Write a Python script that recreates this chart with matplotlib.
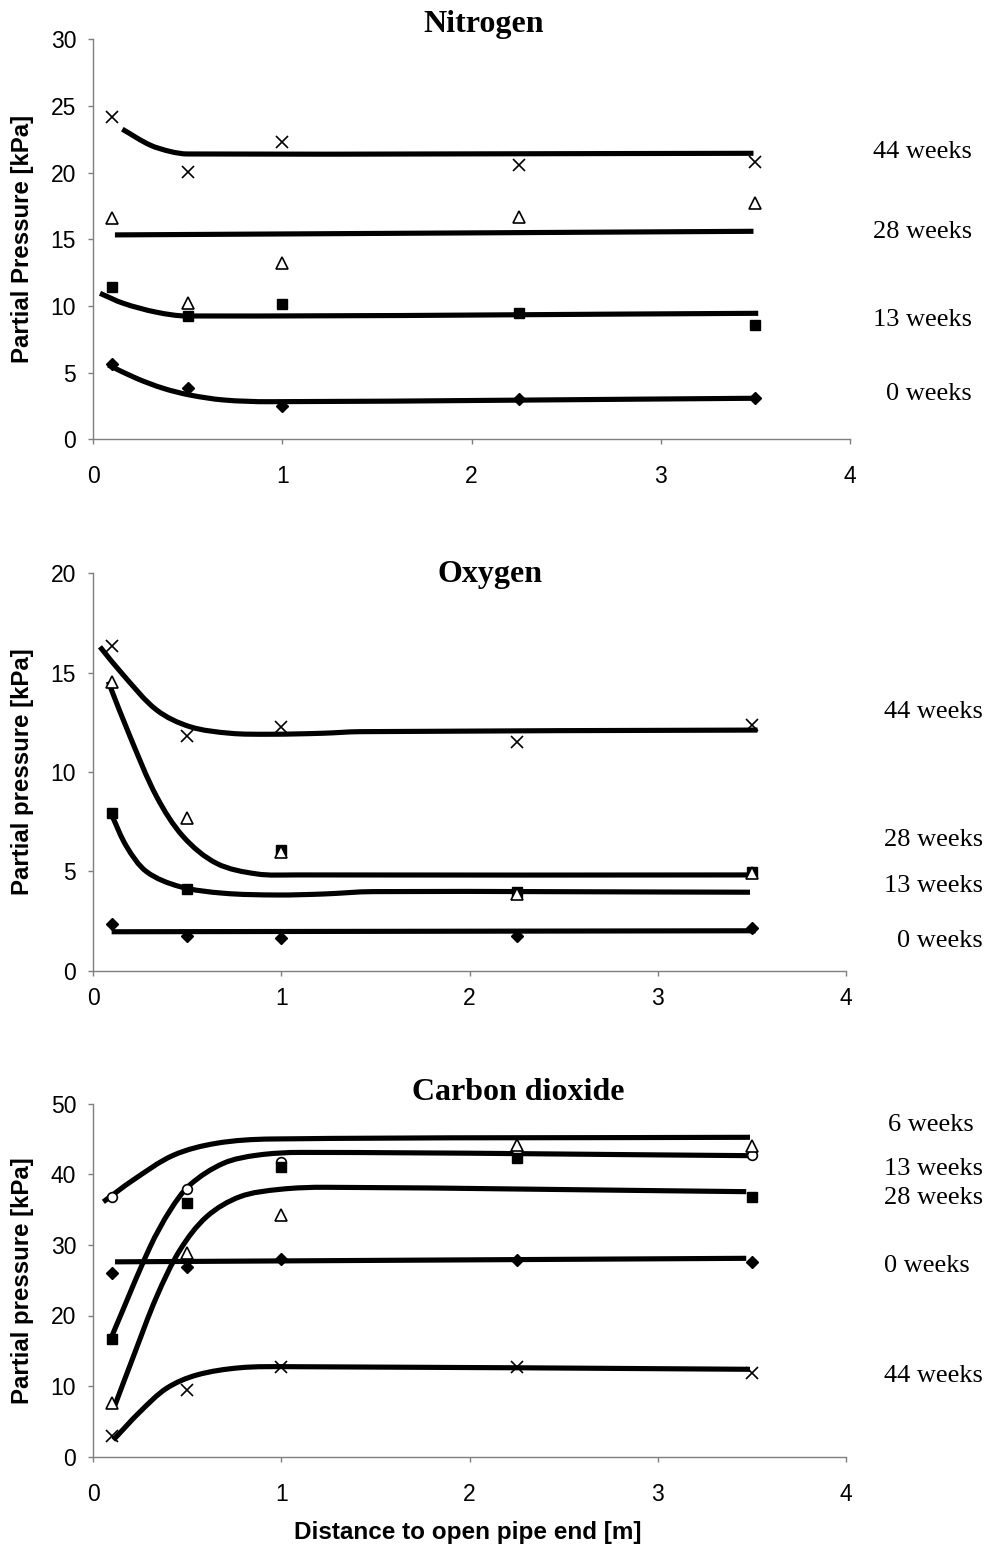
import numpy as np
import matplotlib
matplotlib.use("Agg")
import matplotlib.pyplot as plt
from matplotlib.path import Path
from matplotlib.patches import PathPatch

# sampling distances from the open pipe end [m]
distance = [0.1, 0.5, 1.0, 2.25, 3.5]

# ---- Nitrogen, measured partial pressure [kPa]
n2_0wk = [5.65, 3.83, 2.5, 3.0, 3.12]
n2_13wk = [11.4, 9.25, 10.15, 9.45, 8.57]
n2_28wk = [16.58, 10.2, 13.25, 16.7, 17.7]
n2_44wk = [24.15, 20.07, 22.32, 20.58, 20.78]

# nitrogen trend curves (knots)
n2_fit_0_x = [0.081, 0.23, 0.372, 0.512, 0.69, 0.935, 3.52]
n2_fit_0_y = [5.57, 4.57, 3.82, 3.32, 2.95, 2.82, 3.08]
n2_fit_13_x = [0.037, 0.16, 0.336, 0.495, 3.515]
n2_fit_13_y = [10.95, 10.2, 9.53, 9.25, 9.45]
n2_fit_28_x = [0.116, 3.49]
n2_fit_28_y = [15.33, 15.6]
n2_fit_44_x = [0.155, 0.30, 0.41, 0.50, 3.49]
n2_fit_44_y = [23.26, 22.08, 21.58, 21.40, 21.45]

# ---- Oxygen
o2_0wk = [2.33, 1.75, 1.66, 1.75, 2.17]
o2_13wk = [7.95, 4.1, 6.07, 3.98, 4.95]
o2_28wk = [14.55, 7.7, 5.99, 3.86, 4.9]
o2_44wk = [16.34, 11.81, 12.28, 11.53, 12.37]

o2_fit_0_x = [0.099, 3.52]
o2_fit_0_y = [1.96, 2.01]
o2_fit_13_x = [0.099, 0.179, 0.285, 0.462, 0.692, 0.976, 1.223, 1.489, 3.49]
o2_fit_13_y = [7.84, 6.24, 4.98, 4.23, 3.9, 3.81, 3.86, 3.98, 3.95]
o2_fit_28_x = [0.081, 0.197, 0.338, 0.48, 0.657, 0.87, 1.073, 3.53]
o2_fit_28_y = [14.55, 11.78, 8.76, 6.74, 5.4, 4.87, 4.82, 4.82]
o2_fit_44_x = [0.037, 0.161, 0.338, 0.515, 0.728, 0.94, 1.22, 1.418, 3.53]
o2_fit_44_y = [16.3, 14.88, 13.12, 12.28, 11.95, 11.9, 11.95, 12.03, 12.11]

# ---- Carbon dioxide
co2_0wk = [25.97, 26.9, 27.96, 27.86, 27.62]
co2_6wk = [36.74, 37.87, 41.8, 43.3, 42.73]
co2_13wk = [16.63, 35.98, 41.0, 42.26, 36.83]
co2_28wk = [7.56, 28.9, 34.2, 44.1, 43.95]
co2_44wk = [2.93, 9.45, 12.66, 12.66, 11.81]

co2_fit_0_x = [0.117, 3.47]
co2_fit_0_y = [27.6, 28.1]
co2_fit_6_x = [0.055, 0.214, 0.427, 0.657, 0.949, 3.49]
co2_fit_6_y = [36.1, 39.2, 42.7, 44.4, 45.0, 45.24]
co2_fit_13_x = [0.099, 0.303, 0.41, 0.515, 0.692, 0.87, 1.109, 3.49]
co2_fit_13_y = [17.0, 29.7, 34.9, 38.5, 41.55, 42.7, 43.1, 42.64]
co2_fit_28_x = [0.117, 0.214, 0.338, 0.462, 0.604, 0.781, 0.993, 1.241, 3.47]
co2_fit_28_y = [7.32, 14.16, 22.66, 29.28, 34.0, 36.83, 37.87, 38.16, 37.54]
co2_fit_44_x = [0.108, 0.25, 0.391, 0.551, 0.781, 1.046, 3.49]
co2_fit_44_y = [2.37, 6.37, 9.69, 11.57, 12.6, 12.75, 12.38]

# marker style per exposure time
styles = {
    "0 weeks": dict(marker="D", ms=5.8, mfc="black", mec="black"),
    "6 weeks": dict(marker="o", ms=7, mfc="white", mec="black", mew=1.2),
    "13 weeks": dict(marker="s", ms=7, mfc="black", mec="black"),
    "28 weeks": dict(marker="^", ms=8, mfc="white", mec="black", mew=1.2),
    "44 weeks": dict(marker="x", ms=8.5, mec="black", mew=1.2),
}

W, H = 988, 1548
fig = plt.figure(figsize=(W / 100, H / 100), dpi=100)
plt.rcParams["font.family"] = ["Liberation Sans", "DejaVu Sans"]


def smooth_curve(ax, xs, ys, lw=3.7):
    # smoothed line through the knots (like a spreadsheet "smoothed line")
    x0, x1 = ax.get_xlim()
    y0, y1 = ax.get_ylim()
    pos = ax.get_position()
    sx = pos.width * W / (x1 - x0)
    sy = pos.height * H / (y1 - y0)
    p = np.column_stack([(np.asarray(xs) - x0) * sx, (np.asarray(ys) - y0) * sy])
    n = len(p)
    t = np.zeros_like(p)
    t[0] = p[1] - p[0]
    t[-1] = p[-1] - p[-2]
    for i in range(1, n - 1):
        t[i] = p[i + 1] - p[i - 1]
    t /= np.linalg.norm(t, axis=1)[:, None]
    verts = [p[0]]
    codes = [Path.MOVETO]
    for i in range(n - 1):
        L = np.linalg.norm(p[i + 1] - p[i])
        verts += [p[i] + t[i] * L / 3, p[i + 1] - t[i + 1] * L / 3, p[i + 1]]
        codes += [Path.CURVE4] * 3
    v = np.array(verts)
    v[:, 0] = v[:, 0] / sx + x0
    v[:, 1] = v[:, 1] / sy + y0
    ax.add_patch(PathPatch(Path(v, codes), fill=False, lw=lw, ec="black",
                           capstyle="butt", joinstyle="round", zorder=2))


def setup(ax, ymax, ystep, ylabel, xpad):
    ax.set_xlim(0, 4)
    ax.set_ylim(0, ymax)
    ax.set_xticks(range(0, 5))
    ax.set_yticks(np.arange(0, ymax + 1, ystep))
    for s in ["top", "right"]:
        ax.spines[s].set_visible(False)
    for s in ["left", "bottom"]:
        ax.spines[s].set_color("#7f7f7f")
        ax.spines[s].set_linewidth(1.0)
    ax.tick_params(axis="both", direction="out", length=3.6, width=1.0,
                   color="#7f7f7f", labelsize=16.5, labelcolor="black")
    ax.tick_params(axis="y", pad=8.5)
    ax.tick_params(axis="x", pad=xpad)
    ax.text(-0.093, 0.5, ylabel, transform=ax.transAxes, rotation=90,
            ha="center", va="center", fontsize=17.3, fontweight="bold")


def week_labels(ax, labels, label_y, x_axes, ha):
    tr = matplotlib.transforms.blended_transform_factory(ax.transAxes, ax.transData)
    for lab, y, xa in zip(labels, label_y, x_axes):
        ax.text(xa, y, lab, transform=tr, ha=ha, va="baseline",
                fontsize=19, family="Liberation Serif", clip_on=False)


serif_bold = dict(family="Liberation Serif", fontweight="bold", fontsize=23,
                  ha="center", va="baseline")

# ---------------- Nitrogen
ax1 = fig.add_axes([93 / W, 1 - 439.3 / H, 757 / W, 400 / H])
setup(ax1, 30, 5, "Partial Pressure [kPa]", 15)
for lab, vals in [("0 weeks", n2_0wk), ("13 weeks", n2_13wk),
                  ("28 weeks", n2_28wk), ("44 weeks", n2_44wk)]:
    ax1.plot(distance, vals, ls="none", zorder=3, **styles[lab])
for fx, fy in [(n2_fit_0_x, n2_fit_0_y), (n2_fit_13_x, n2_fit_13_y),
               (n2_fit_28_x, n2_fit_28_y), (n2_fit_44_x, n2_fit_44_y)]:
    smooth_curve(ax1, fx, fy)
week_labels(ax1, ["44 weeks", "28 weeks", "13 weeks", "0 weeks"],
            [21.1, 15.1, 8.5, 2.95], [1.161] * 4, "right")
fig.text(484 / W, 1 - 32 / H, "Nitrogen", **serif_bold)

# ---------------- Oxygen
ax2 = fig.add_axes([93 / W, 1 - 970.7 / H, 753 / W, 397.4 / H])
setup(ax2, 20, 5, "Partial pressure [kPa]", 8)
for lab, vals in [("0 weeks", o2_0wk), ("13 weeks", o2_13wk),
                  ("28 weeks", o2_28wk), ("44 weeks", o2_44wk)]:
    ax2.plot(distance, vals, ls="none", zorder=3, **styles[lab])
for fx, fy in [(o2_fit_0_x, o2_fit_0_y), (o2_fit_13_x, o2_fit_13_y),
               (o2_fit_28_x, o2_fit_28_y), (o2_fit_44_x, o2_fit_44_y)]:
    smooth_curve(ax2, fx, fy)
week_labels(ax2, ["44 weeks", "28 weeks", "13 weeks", "0 weeks"],
            [12.72, 6.28, 3.96, 1.19], [1.182] * 4, "right")
fig.text(489.7 / W, 1 - 582 / H, "Oxygen", **serif_bold)

# ---------------- Carbon dioxide
ax3 = fig.add_axes([93 / W, 1 - 1456.7 / H, 753 / W, 353 / H])
setup(ax3, 50, 10, "Partial pressure [kPa]", 15.5)
for lab, vals in [("0 weeks", co2_0wk), ("6 weeks", co2_6wk), ("13 weeks", co2_13wk),
                  ("28 weeks", co2_28wk), ("44 weeks", co2_44wk)]:
    ax3.plot(distance, vals, ls="none", zorder=3, **styles[lab])
for fx, fy in [(co2_fit_0_x, co2_fit_0_y), (co2_fit_6_x, co2_fit_6_y),
               (co2_fit_13_x, co2_fit_13_y), (co2_fit_28_x, co2_fit_28_y),
               (co2_fit_44_x, co2_fit_44_y)]:
    smooth_curve(ax3, fx, fy)
week_labels(ax3, ["6 weeks", "13 weeks", "28 weeks", "0 weeks", "44 weeks"],
            [46.1, 39.9, 35.8, 26.2, 10.6], [1.056, 1.05, 1.05, 1.05, 1.05], "left")
fig.text(518.5 / W, 1 - 1100 / H, "Carbon dioxide", **serif_bold)

fig.text(468 / W, 1 - 1539 / H, "Distance to open pipe end [m]",
         ha="center", va="baseline", fontsize=17.5, fontweight="bold")

fig.savefig("out.png", dpi=100)
